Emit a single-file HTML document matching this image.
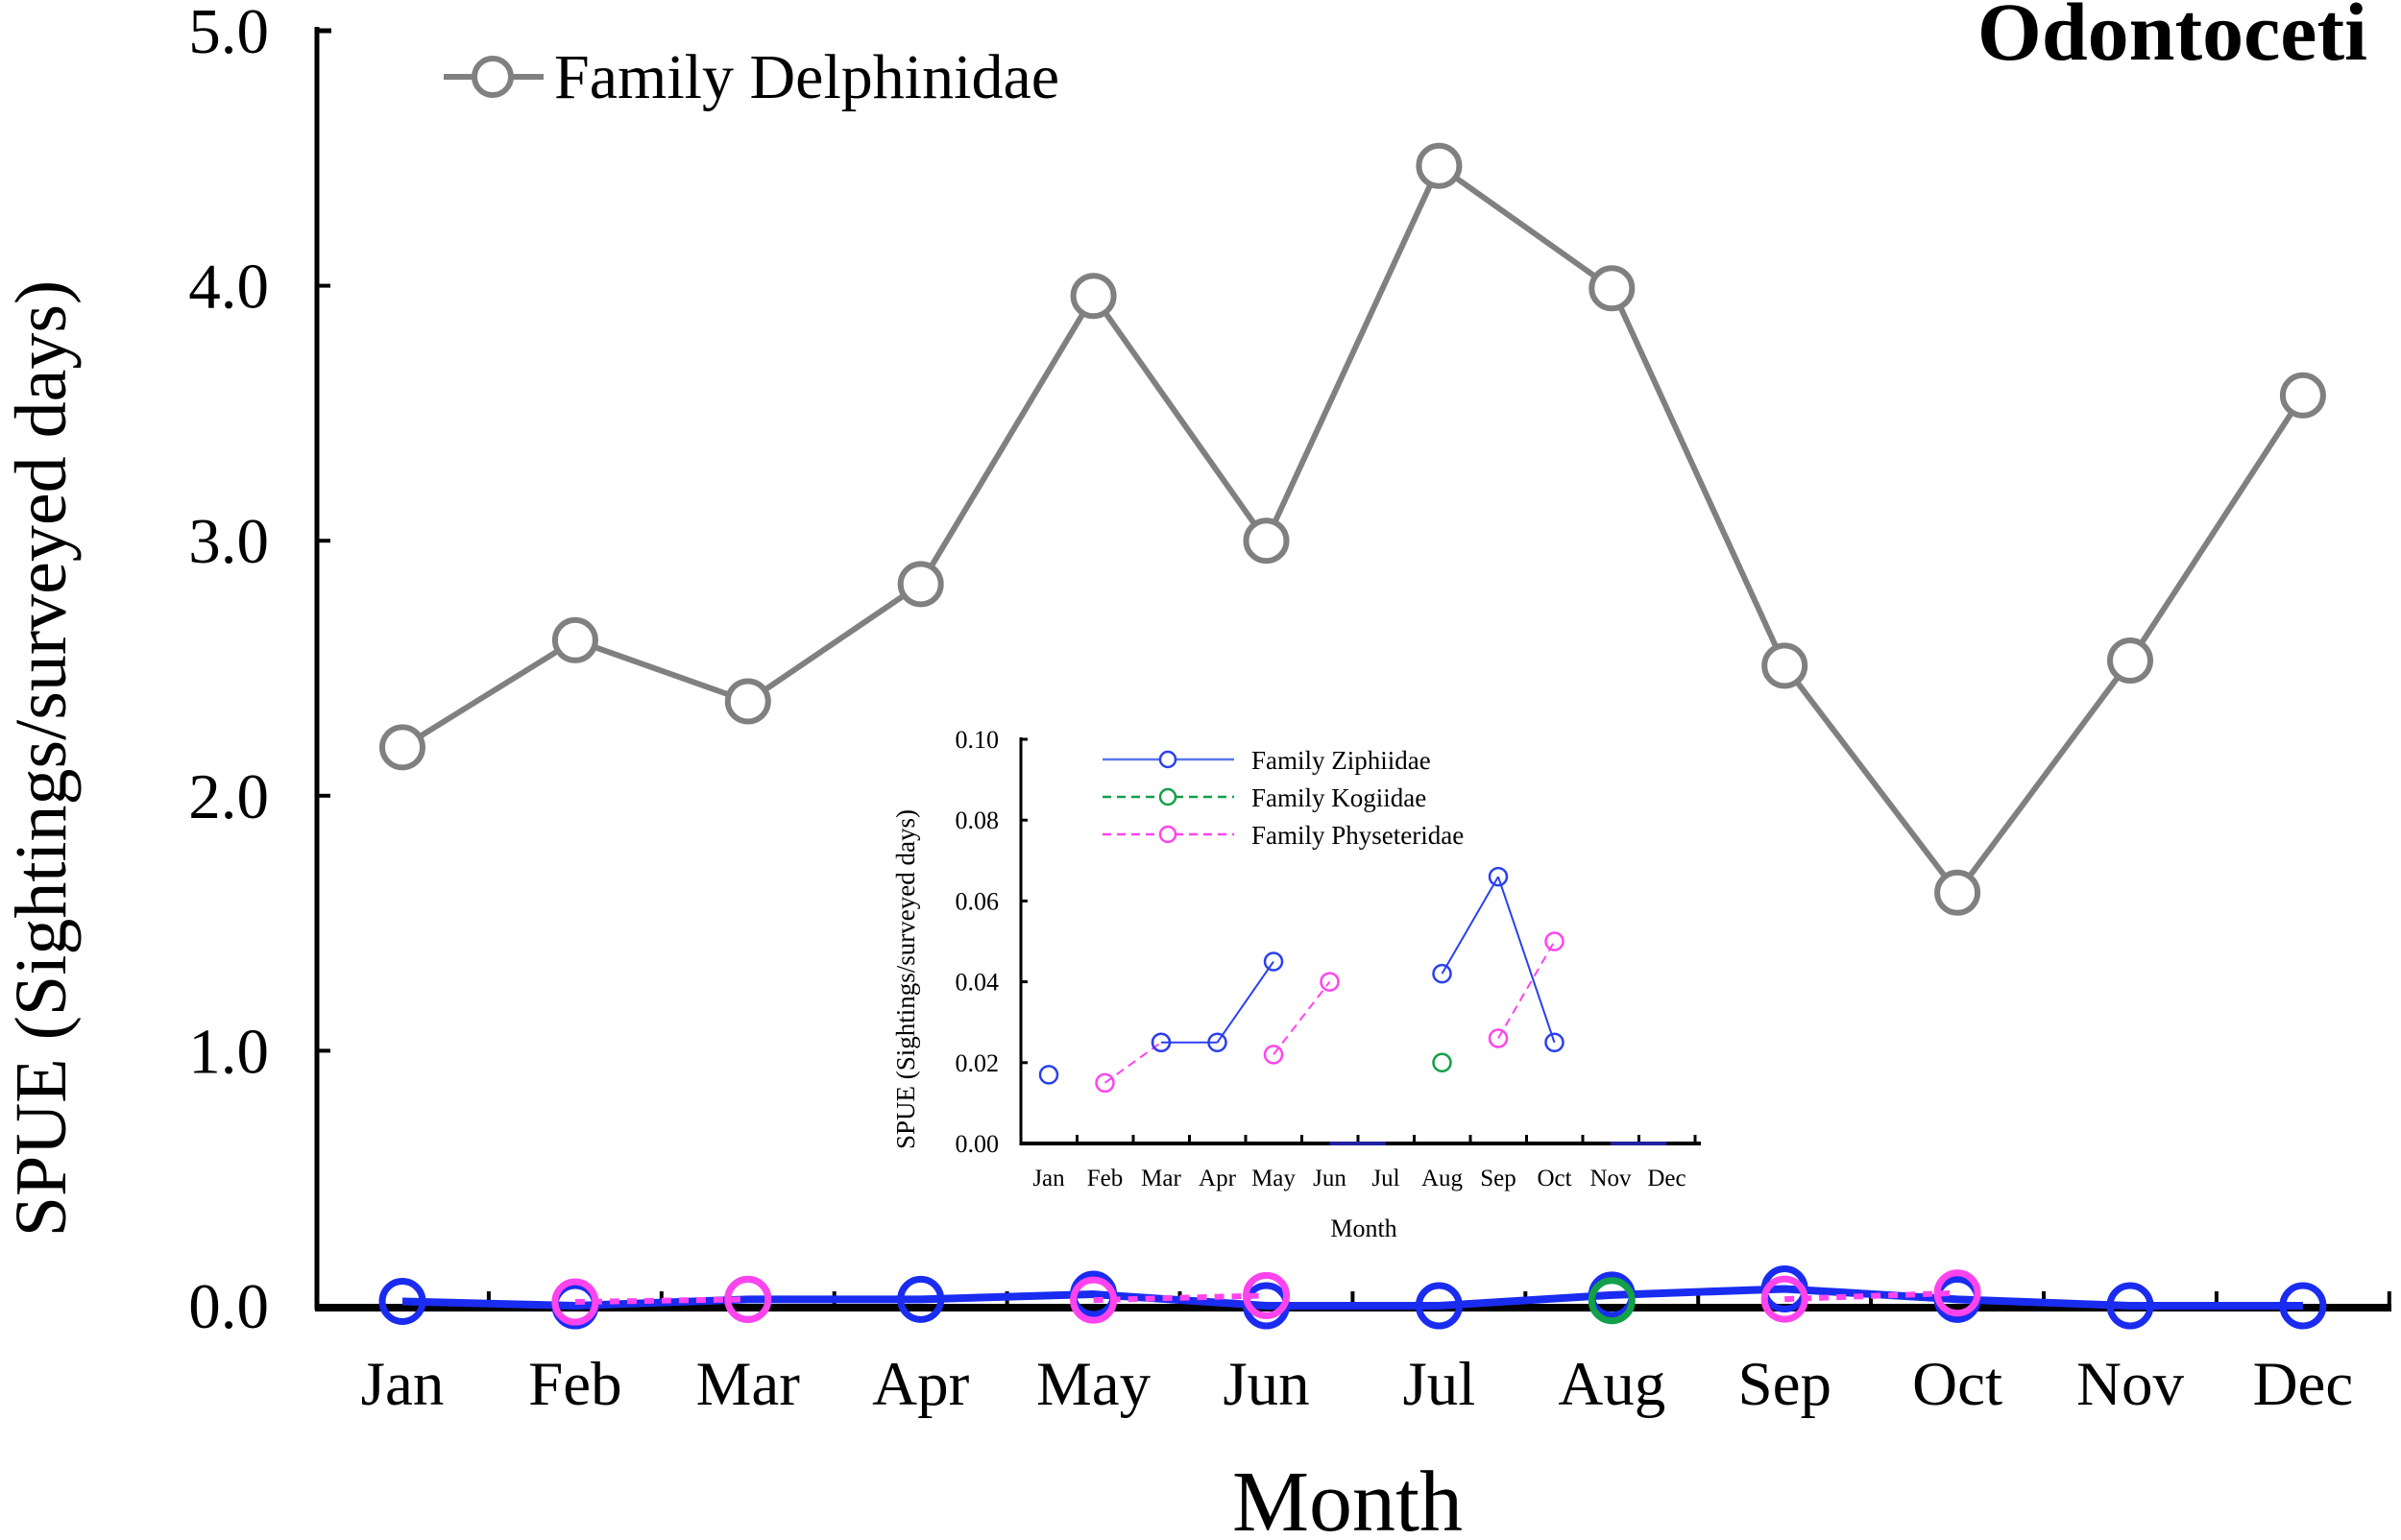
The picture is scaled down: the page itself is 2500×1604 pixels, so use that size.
<!DOCTYPE html>
<html><head><meta charset="utf-8"><style>
html,body{margin:0;padding:0;background:#fff;}
svg{display:block;font-family:"Liberation Serif",serif;}
</style></head><body>
<svg id="chart" width="2500" height="1604" viewBox="0 0 2500 1604" xmlns="http://www.w3.org/2000/svg"></svg>
<script>
const months = ["Jan","Feb","Mar","Apr","May","Jun","Jul","Aug","Sep","Oct","Nov","Dec"];
const mainYTicks = [0,1,2,3,4,5];
const mainYTickLabels = ["0.0","1.0","2.0","3.0","4.0","5.0"];
const delphinidae = [2.19,2.61,2.37,2.83,3.96,3.00,4.47,3.99,2.51,1.62,2.53,3.57];
const ziphiidae = [0.017,null,0.025,0.025,0.045,0,0,0.042,0.066,0.025,0,0];
const kogiidae = [null,null,null,null,null,null,null,0.020,null,null,null,null];
const physeteridae = [null,0.015,0.025,null,0.022,0.040,null,null,0.026,0.050,null,null];
const insetYTicks = [0,0.02,0.04,0.06,0.08,0.10];
const insetYTickLabels = ["0.00","0.02","0.04","0.06","0.08","0.10"];

const NS="http://www.w3.org/2000/svg";
const svg=document.getElementById('chart');
function mk(tag,attrs,parent,text){const e=document.createElementNS(NS,tag);for(const k in attrs)e.setAttribute(k,attrs[k]);if(text!==undefined)e.textContent=text;(parent||svg).appendChild(e);return e;}

const mx=i=>419+i*179.9;
const my=v=>1360-v*265.6;
const main=mk('g',{});


let e;
e=mk('line',{x1:330,y1:28,x2:330,y2:1364,stroke:'#000','stroke-width':5},main);

e=mk('line',{x1:330,y1:32,x2:345,y2:32,stroke:'#000','stroke-width':5},main);
e=mk('line',{x1:328,y1:1362,x2:2490,y2:1362,stroke:'#000','stroke-width':8},main);

for(let i=1;i<=12;i++){const x=419-90+i*179.9;mk('line',{x1:x,y1:1362,x2:x,y2:1345,stroke:'#000','stroke-width':4},main);}
mainYTicks.forEach((v,i)=>{
  mk('line',{x1:330,y1:my(v),x2:344,y2:my(v),stroke:'#000','stroke-width':4},main);
  e=mk('text',{x:280,y:my(v)+23,'text-anchor':'end','font-size':67},main,mainYTickLabels[i]);
  
});
months.forEach((m,i)=>{
  e=mk('text',{x:mx(i),y:1463,'text-anchor':'middle','font-size':65},main,m);
  
});
e=mk('text',{x:1403,y:1594,'text-anchor':'middle','font-size':90},main,'Month');

e=mk('text',{x:0,y:0,transform:'translate(68,790) rotate(-90)','text-anchor':'middle','font-size':76},main,'SPUE (Sightings/surveyed days)');

e=mk('text',{x:2465,y:62,'text-anchor':'end','font-size':86,'font-weight':'bold'},main,'Odontoceti');


let d='';ziphiidae.forEach((v,i)=>{d+=(i?'L':'M')+mx(i)+','+my(v||0);});
e=mk('path',{d:d,fill:'none',stroke:'#1a2cf0','stroke-width':8},main);

ziphiidae.forEach((v,i)=>{e=mk('circle',{cx:mx(i),cy:my(v||0),r:21,fill:'none',stroke:'#1a2cf0','stroke-width':7},main);
  });
kogiidae.forEach((v,i)=>{if(v===null)return;e=mk('circle',{cx:mx(i),cy:my(v),r:21,fill:'none',stroke:'#12a04a','stroke-width':7},main);
  });
physeteridae.forEach((v,i)=>{
  if(v===null)return;
  if(i>0&&physeteridae[i-1]!==null){e=mk('line',{x1:mx(i-1),y1:my(physeteridae[i-1]),x2:mx(i),y2:my(v),stroke:'#ff44ee','stroke-width':6,'stroke-dasharray':'10 8'},main);
    }
});
physeteridae.forEach((v,i)=>{if(v===null)return;e=mk('circle',{cx:mx(i),cy:my(v),r:21,fill:'none',stroke:'#ff44ee','stroke-width':7},main);
  });
d='';delphinidae.forEach((v,i)=>{d+=(i?'L':'M')+mx(i)+','+my(v);});
e=mk('path',{d:d,fill:'none',stroke:'#808080','stroke-width':6},main);

delphinidae.forEach((v,i)=>{e=mk('circle',{cx:mx(i),cy:my(v),r:21,fill:'#fff',stroke:'#808080','stroke-width':6},main);
  });
const lg=mk('g',{},main);

mk('line',{x1:462,y1:80,x2:566,y2:80,stroke:'#808080','stroke-width':6},lg);
mk('circle',{cx:513,cy:80,r:19,fill:'#fff',stroke:'#808080','stroke-width':6},lg);
mk('text',{x:577,y:102,'font-size':66},lg,'Family Delphinidae');

const ix=i=>1092+i*58.5;
const iy=v=>1191-v*4210;
const ins=mk('g',{});

e=mk('line',{x1:1063,y1:768,x2:1063,y2:1193,stroke:'#000','stroke-width':3},ins);

e=mk('line',{x1:1062,y1:1191,x2:1771,y2:1191,stroke:'#000','stroke-width':4},ins);

for(let i=1;i<=12;i++){const x=1092-29+i*58.5;mk('line',{x1:x,y1:1191,x2:x,y2:1182,stroke:'#000','stroke-width':3},ins);}
insetYTicks.forEach((v,i)=>{
  mk('line',{x1:1063,y1:iy(v),x2:1070,y2:iy(v),stroke:'#000','stroke-width':3},ins);
  e=mk('text',{x:1040,y:iy(v)+9,'text-anchor':'end','font-size':26},ins,insetYTickLabels[i]);
  
});
months.forEach((m,i)=>{e=mk('text',{x:ix(i),y:1235,'text-anchor':'middle','font-size':25},ins,m);
  });
e=mk('text',{x:1420,y:1288,'text-anchor':'middle','font-size':26},ins,'Month');

e=mk('text',{x:0,y:0,transform:'translate(952,1020) rotate(-90)','text-anchor':'middle','font-size':27},ins,'SPUE (Sightings/surveyed days)');

function insetSeries(arr,color,dash,name){
  arr.forEach((v,i)=>{
    if(i===0||v===null||arr[i-1]===null)return;
    const p=arr[i-1];
    if((p>0&&v>0)||(p===0&&v===0)){
      const a={x1:ix(i-1),y1:iy(p),x2:ix(i),y2:iy(v),stroke:(v===0?'#2020a0':color),'stroke-width':(v===0?4:2)};
      if(dash&&v>0)a['stroke-dasharray']='9 6';
      e=mk('line',a,ins);
    }
  });
  arr.forEach((v,i)=>{if(v===null||v===0)return;
    e=mk('circle',{cx:ix(i),cy:iy(v),r:9,fill:'none',stroke:color,'stroke-width':2.5},ins);
    });
}
insetSeries(physeteridae,'#ff44ee',true,'inset-physeteridae');
insetSeries(kogiidae,'#12a04a',true,'inset-kogiidae');
insetSeries(ziphiidae,'#2a40f0',false,'inset-ziphiidae');
const legItems=[["Family Ziphiidae","#5a78f0",null,'#2a40f0'],["Family Kogiidae","#12a04a","9 6",'#12a04a'],["Family Physeteridae","#ff44ee","9 6",'#ff44ee']];
legItems.forEach((it,k)=>{
  const y=791+k*39;
  const g=mk('g',{},ins);
  
  const a={x1:1148,y1:y,x2:1285,y2:y,stroke:it[1],'stroke-width':2.5};if(it[2])a['stroke-dasharray']=it[2];
  mk('line',a,g);
  mk('circle',{cx:1216,cy:y,r:8,fill:'#fff',stroke:it[3],'stroke-width':2.5},g);
  mk('text',{x:1303,y:y+10,'font-size':27},g,it[0]);
});
</script>
</body></html>
